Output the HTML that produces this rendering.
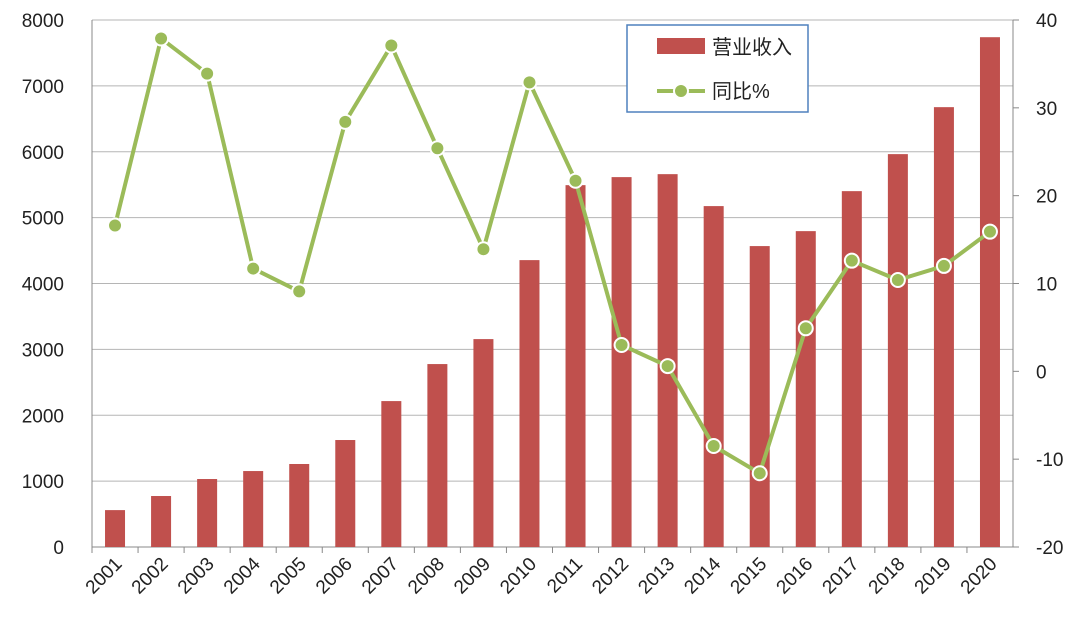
<!DOCTYPE html>
<html><head><meta charset="utf-8"><style>
html,body{margin:0;padding:0;background:#fff;}
svg{display:block;font-family:"Liberation Sans","Noto Sans CJK SC",sans-serif;}
</style></head><body>
<svg id="chart" width="1080" height="629"></svg>
<script>
const years=["2001","2002","2003","2004","2005","2006","2007","2008","2009","2010","2011","2012","2013","2014","2015","2016","2017","2018","2019","2020"];
const revenue=[560,774,1032,1153,1260,1624,2215,2777,3156,4355,5493,5615,5660,5175,4568,4795,5402,5964,6677,7739];
const growth=[16.6,37.9,33.9,11.7,9.1,28.4,37.1,25.4,13.9,32.9,21.7,3.0,0.6,-8.5,-11.6,4.9,12.6,10.4,12.0,15.9];
const leftTicks=[0,1000,2000,3000,4000,5000,6000,7000,8000];
const rightTicks=[-20,-10,0,10,20,30,40];

const NS="http://www.w3.org/2000/svg";
const svg=document.getElementById('chart');
const L=92,R=1013,T=20,B=547;
const yL=v=>B-(v/8000)*(B-T);
const yR=v=>B-((v+20)/60)*(B-T);
const bw=(R-L)/years.length;
const xC=i=>L+bw*(i+0.5);
function mk(tag,attrs,parent){const e=document.createElementNS(NS,tag);for(const k in attrs)e.setAttribute(k,attrs[k]);(parent||svg).appendChild(e);return e;}

leftTicks.forEach(t=>{
  const g=mk('line',{x1:L,x2:R,y1:yL(t),y2:yL(t),stroke:t===0?'#888':'#b5b5b5','stroke-width':1});
  
  
  const tx=mk('text',{x:L-28,y:yL(t)+7,'text-anchor':'end','font-size':19,fill:'#222'});
  tx.textContent=t;
  
  
});
rightTicks.forEach(t=>{
  const tx=mk('text',{x:R+23,y:yR(t)+7,'text-anchor':'start','font-size':19,fill:'#222'});
  tx.textContent=t;
  
  
  const tk=mk('line',{x1:R,x2:R+6,y1:yR(t),y2:yR(t),stroke:'#888'});
  
  
});
const la=mk('line',{x1:L,x2:L,y1:T,y2:B,stroke:'#888'});


const ra=mk('line',{x1:R,x2:R,y1:T,y2:B,stroke:'#888'});



years.forEach((y,i)=>{
  const tk=mk('line',{x1:L+bw*i,x2:L+bw*i,y1:B,y2:B+6,stroke:'#888'});
  
  
  const bar=mk('rect',{x:xC(i)-10,y:yL(revenue[i]),width:20,height:B-yL(revenue[i]),fill:'#c0504d'});
  
  
  const tx=mk('text',{x:xC(i)+8,y:B+18,'text-anchor':'end','font-size':19,fill:'#222',transform:`rotate(-45 ${xC(i)+8} ${B+18})`});
  tx.textContent=y;
  
  
});
const pts=growth.map((v,i)=>xC(i)+','+yR(v)).join(' ');
const pl=mk('polyline',{points:pts,fill:'none',stroke:'#9bbb59','stroke-width':4,'stroke-linejoin':'round'});


growth.forEach((v,i)=>{
  const c=mk('circle',{cx:xC(i),cy:yR(v),r:7,fill:'#9bbb59',stroke:'#fff','stroke-width':2});
  
  
});
const lg=mk('g',{});


mk('rect',{x:627,y:25,width:181,height:87,fill:'#fff',stroke:'#4f81bd','stroke-width':1.5},lg);
const lb=mk('rect',{x:657,y:38,width:48,height:16,fill:'#c0504d'},lg);


const t1=mk('text',{x:712,y:54,'font-size':20,fill:'#222'},lg);t1.textContent='营业收入';
mk('line',{x1:657,x2:705,y1:91,y2:91,stroke:'#9bbb59','stroke-width':4},lg);
const lc=mk('circle',{cx:681,cy:91,r:7,fill:'#9bbb59',stroke:'#fff','stroke-width':2},lg);


const t2=mk('text',{x:712,y:98,'font-size':20,fill:'#222'},lg);t2.textContent='同比%';
</script>
</body></html>
